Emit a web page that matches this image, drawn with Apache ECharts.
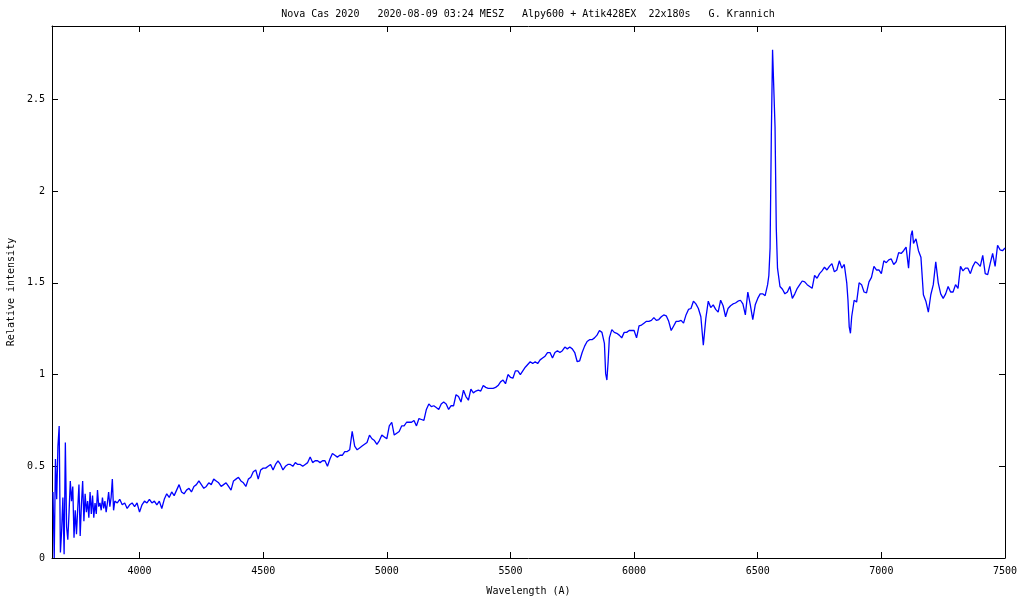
<!DOCTYPE html>
<html>
<head>
<meta charset="utf-8">
<script src="https://cdn.jsdelivr.net/npm/echarts@6/dist/echarts.min.js"></script>
<style>
html,body{margin:0;padding:0;background:#fff;}
#chart{width:1024px;height:600px;}
</style>
</head>
<body>
<div id="chart"></div>
<script>
const chartTitle = 'Nova Cas 2020   2020-08-09 03:24 MESZ   Alpy600 + Atik428EX  22x180s   G. Krannich';
const xAxisTitle = 'Wavelength (A)';
const yAxisTitle = 'Relative intensity';
const xTicks = [4000, 4500, 5000, 5500, 6000, 6500, 7000, 7500];
const yTicks = [0, 0.5, 1, 1.5, 2, 2.5];
const xRange = [3646, 7500];
const yRange = [0, 2.9];

const wavelength = [
  3650,3655,3660,3665,3670,3675,3680,3685,3690,3695,3700,
  3705,3710,3715,3720,3725,3730,3735,3740,3745,3750,
  3755,3760,3765,3770,3775,3780,3785,3790,3795,3800,
  3805,3810,3815,3820,3825,3830,3835,3840,3845,3850,
  3855,3860,3865,3870,3875,3880,3885,3890,3895,3900,
  3910,3920,3930,3940,3950,3960,3970,3980,3990,4000,
  4010,4020,4030,4040,4050,4060,4070,4080,4090,4100,
  4110,4120,4130,4140,4150,4160,4170,4180,4190,4200,
  4210,4220,4230,4240,4250,4260,4270,4280,4290,4300,
  4310,4320,4330,4340,4350,4360,4370,4380,4390,4400,
  4410,4420,4430,4440,4450,4460,4470,4480,4490,4500,
  4510,4520,4530,4540,4550,4560,4570,4580,4590,4600,
  4610,4620,4630,4640,4650,4660,4670,4680,4690,4700,
  4710,4720,4730,4740,4750,4760,4770,4780,4790,4800,
  4810,4820,4830,4840,4850,4860,4870,4880,4890,4900,
  4910,4920,4930,4940,4950,4960,4970,4980,4990,5000,
  5010,5020,5030,5040,5050,5060,5070,5080,5090,5100,
  5110,5120,5130,5140,5150,5160,5170,5180,5190,5200,
  5210,5220,5230,5240,5250,5260,5270,5280,5290,5300,
  5310,5320,5330,5340,5350,5360,5370,5380,5390,5400,
  5410,5420,5430,5440,5450,5460,5470,5480,5490,5500,
  5510,5520,5530,5540,5550,5560,5570,5580,5590,5600,
  5610,5620,5630,5640,5650,5660,5670,5680,5690,5700,
  5710,5720,5730,5740,5750,5760,5770,5780,5790,5800,
  5810,5820,5830,5840,5850,5860,5870,5880,
  5885,5890,5895,5900,
  5910,5920,5930,5940,5950,5960,5970,5980,5990,6000,
  6010,6020,6030,6040,6050,6060,6070,6080,6090,6100,
  6110,6120,6130,6140,6150,6160,6170,6180,6190,6200,
  6210,6220,6230,6240,6250,6260,6270,6280,6290,6300,
  6310,6320,6330,6340,6350,6360,6370,6380,6390,6400,
  6410,6420,6430,6440,6450,6460,6470,6480,6490,6500,
  6510,6520,6530,6540,
  6545,6550,6555,6560,6565,6570,6575,6580,
  6590,6600,6610,6620,6630,6640,6650,6660,6670,6680,
  6690,6700,6710,6720,6730,6740,6750,6760,6770,6780,
  6790,6800,6810,6820,6830,6840,6850,6860,
  6865,6870,6875,6880,
  6890,6900,6910,6920,6930,6940,6950,6960,6970,6980,
  6990,7000,7010,7020,7030,7040,7050,7060,7070,7080,
  7090,7100,7110,7120,
  7125,
  7130,7140,7150,7160,7170,7180,7190,7200,7210,7220,
  7230,7240,7250,7260,7270,7280,7290,7300,7310,7320,
  7330,7340,7350,7360,7370,7380,7390,7400,7410,7420,
  7430,7440,7450,7460,7470,7480,7490,7500
];

const intensity = [
  0.36,0.00,0.54,0.32,0.61,0.72,0.03,0.15,0.33,0.02,0.63,
  0.17,0.10,0.25,0.42,0.31,0.39,0.11,0.26,0.13,0.27,
  0.40,0.12,0.29,0.42,0.20,0.35,0.25,0.31,0.22,0.36,
  0.24,0.34,0.22,0.30,0.24,0.37,0.28,0.30,0.26,0.33,
  0.27,0.31,0.25,0.30,0.36,0.28,0.33,0.43,0.26,0.31,
  0.30,0.32,0.29,0.30,0.27,0.29,0.30,0.28,0.30,0.25,
  0.29,0.31,0.30,0.32,0.30,0.31,0.29,0.31,0.27,0.32,
  0.35,0.33,0.36,0.34,0.37,0.40,0.36,0.35,0.37,0.38,
  0.36,0.39,0.40,0.42,0.40,0.38,0.39,0.41,0.40,0.43,
  0.42,0.41,0.39,0.40,0.41,0.39,0.37,0.42,0.43,0.44,
  0.42,0.41,0.39,0.43,0.44,0.47,0.48,0.43,0.48,0.49,
  0.49,0.50,0.51,0.48,0.51,0.53,0.51,0.48,0.50,0.51,
  0.51,0.50,0.52,0.51,0.51,0.50,0.51,0.52,0.55,0.52,
  0.53,0.53,0.52,0.53,0.53,0.50,0.54,0.57,0.56,0.55,
  0.56,0.56,0.58,0.58,0.59,0.69,0.61,0.59,0.60,0.61,
  0.62,0.63,0.67,0.65,0.64,0.62,0.64,0.67,0.66,0.65,
  0.72,0.74,0.67,0.68,0.69,0.72,0.72,0.74,0.74,0.74,
  0.75,0.72,0.76,0.755,0.75,0.81,0.84,0.825,0.83,0.82,
  0.81,0.84,0.85,0.84,0.81,0.83,0.83,0.89,0.88,0.85,
  0.915,0.88,0.86,0.92,0.90,0.91,0.915,0.91,0.94,0.93,
  0.925,0.925,0.925,0.93,0.94,0.96,0.97,0.95,1.00,0.985,
  0.98,1.02,1.02,1.00,1.02,1.04,1.055,1.07,1.06,1.07,
  1.06,1.08,1.09,1.10,1.12,1.12,1.09,1.12,1.13,1.12,
  1.13,1.15,1.14,1.15,1.14,1.12,1.07,1.075,1.12,1.155,
  1.18,1.19,1.19,1.20,1.215,1.24,1.23,1.17,
  1.005,0.97,1.07,1.20,
  1.245,1.23,1.225,1.215,1.20,1.23,1.23,1.24,1.24,1.24,
  1.20,1.265,1.27,1.28,1.29,1.29,1.295,1.31,1.295,1.30,
  1.315,1.325,1.32,1.29,1.24,1.265,1.29,1.29,1.295,1.28,
  1.325,1.355,1.36,1.40,1.385,1.36,1.315,1.16,1.305,1.40,
  1.365,1.38,1.355,1.34,1.405,1.375,1.315,1.36,1.375,1.385,
  1.39,1.40,1.405,1.385,1.325,1.45,1.38,1.30,1.38,1.415,
  1.44,1.44,1.43,1.49,
  1.54,1.69,2.30,2.77,2.77,2.35,1.80,1.58,
  1.48,1.465,1.44,1.45,1.48,1.415,1.44,1.47,1.49,1.51,
  1.505,1.49,1.48,1.47,1.54,1.525,1.55,1.565,1.585,1.57,
  1.59,1.605,1.56,1.57,1.62,1.58,1.60,1.50,
  1.405,1.26,1.225,1.315,
  1.405,1.395,1.50,1.49,1.45,1.445,1.505,1.53,1.59,1.57,
  1.57,1.55,1.62,1.61,1.625,1.63,1.60,1.615,1.665,1.66,
  1.675,1.695,1.58,1.76,
  1.785,
  1.715,1.74,1.675,1.64,1.435,1.40,1.34,1.435,1.49,1.615,
  1.50,1.44,1.415,1.44,1.48,1.45,1.45,1.49,1.47,1.59,
  1.565,1.58,1.58,1.55,1.59,1.615,1.605,1.59,1.65,1.55,
  1.545,1.605,1.66,1.59,1.705,1.68,1.675,1.69
];

const n = Math.min(wavelength.length, intensity.length);
const seriesData = [];
for (let i = 0; i < n; i++) seriesData.push([wavelength[i], intensity[i]]);

const FONT = "'DejaVu Sans Mono', monospace";
const txt = { color: '#000', fontFamily: FONT, fontSize: 10 };
const frameLine = { show: true, onZero: false, lineStyle: { color: '#000', width: 1 } };
const tickStyle = { color: '#000', width: 1 };
const plain = v => String(v);

const chart = echarts.init(document.getElementById('chart'), null, { renderer: 'canvas' });
chart.setOption({
  animation: false,
  backgroundColor: '#fff',
  grid: { left: 52, right: 19, top: 26, bottom: 42, containLabel: false, outerBoundsMode: 'none' },
  graphic: [{
    type: 'text', x: 528, y: 14,
    style: { text: chartTitle, fill: '#000', font: "10px 'DejaVu Sans Mono', monospace", textAlign: 'center', textVerticalAlign: 'middle' }
  }],
  xAxis: [{
    type: 'value', position: 'bottom', min: xRange[0], max: xRange[1],
    axisLine: frameLine,
    axisTick: { show: true, inside: true, length: 6, customValues: xTicks, lineStyle: tickStyle },
    axisLabel: Object.assign({ customValues: xTicks, margin: 8, formatter: plain }, txt),
    splitLine: { show: false },
    name: xAxisTitle, nameLocation: 'middle', nameGap: 28, nameTextStyle: txt
  }, {
    type: 'value', position: 'top', min: xRange[0], max: xRange[1],
    axisLine: frameLine,
    axisTick: { show: true, inside: true, length: 6, customValues: xTicks, lineStyle: tickStyle },
    axisLabel: { show: false },
    splitLine: { show: false }
  }],
  yAxis: [{
    type: 'value', position: 'left', min: yRange[0], max: yRange[1],
    axisLine: frameLine,
    axisTick: { show: true, inside: true, length: 6, customValues: yTicks, lineStyle: tickStyle },
    axisLabel: Object.assign({ customValues: yTicks, margin: 7, formatter: plain }, txt),
    splitLine: { show: false },
    name: yAxisTitle, nameLocation: 'middle', nameGap: 36, nameRotate: 90, nameTextStyle: txt
  }, {
    type: 'value', position: 'right', min: yRange[0], max: yRange[1],
    axisLine: frameLine,
    axisTick: { show: true, inside: true, length: 6, customValues: yTicks, lineStyle: tickStyle },
    axisLabel: { show: false },
    splitLine: { show: false }
  }],
  series: [{
    type: 'line', xAxisIndex: 0, yAxisIndex: 0,
    data: seriesData, showSymbol: false, symbol: 'none',
    lineStyle: { color: '#0000ff', width: 1.3 },
    itemStyle: { color: '#0000ff' },
    emphasis: { disabled: true }
  }]
});
</script>
</body>
</html>
